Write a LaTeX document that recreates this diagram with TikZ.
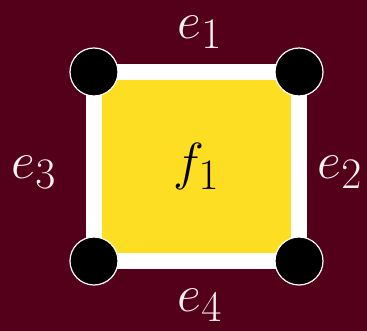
\documentclass[tikz,border=0pt]{standalone}
\usepackage{amsmath,amssymb}
\usepackage{tikz}
\usetikzlibrary{positioning,calc}
\definecolor{bgmaroon}{HTML}{55001A}
\definecolor{faceyellow}{HTML}{FDDE22}
\definecolor{labelwhite}{HTML}{FBF2F4}
\tikzset{
  cx/vertex/.style={draw=white, line width=1.2pt, fill=black, circle, inner sep=0pt, minimum size=48pt},
  cx/edge/.style={draw=white, line width=16pt, line cap=rect},
  cx/face/.style={fill=faceyellow},
  cx/label/.style={text=labelwhite, inner sep=0pt, font=\Huge, scale=2.1, transform shape},
  cx/facelabel/.style={cx/label, text=black}
}

\begin{document}
\begin{tikzpicture}[x=1pt,y=-1pt]
  \fill[bgmaroon] (0,0) rectangle (367,331);
  \useasboundingbox (0,0) rectangle (367,331);

  \coordinate (v1) at (94,72);
  \coordinate (v2) at (299,72);
  \coordinate (v3) at (94,261);
  \coordinate (v4) at (299,261);

  \fill[cx/face] (v1) rectangle (v4);
  \draw[cx/edge] (v1) -- (v2);
  \draw[cx/edge] (v2) -- (v4);
  \draw[cx/edge] (v1) -- (v3);
  \draw[cx/edge] (v3) -- (v4);

  \node[cx/vertex] (n1) at (v1) {};
  \node[cx/vertex] (n2) at (v2) {};
  \node[cx/vertex] (n3) at (v3) {};
  \node[cx/vertex] (n4) at (v4) {};

  \node[cx/label] (e1) at (200,32) {$e_1$};
  \node[cx/label] (e2) at (340,172) {$e_2$};
  \node[cx/label] (e3) at (34,172) {$e_3$};
  \node[cx/label] (e4) at (200,305) {$e_4$};
  \node[cx/facelabel] (f1) at ($(v1)!0.5!(v4)$) {$f_1$};
\end{tikzpicture}
\end{document}
